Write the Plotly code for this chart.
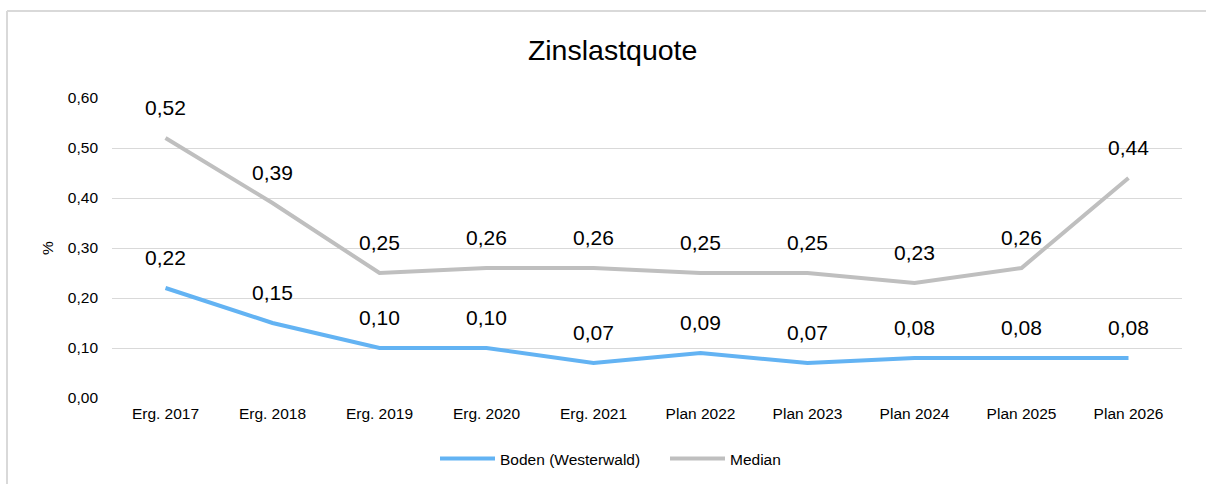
import plotly.graph_objects as go

categories = ["Erg. 2017", "Erg. 2018", "Erg. 2019", "Erg. 2020", "Erg. 2021",
              "Plan 2022", "Plan 2023", "Plan 2024", "Plan 2025", "Plan 2026"]
boden = [0.22, 0.15, 0.10, 0.10, 0.07, 0.09, 0.07, 0.08, 0.08, 0.08]
median = [0.52, 0.39, 0.25, 0.26, 0.26, 0.25, 0.25, 0.23, 0.26, 0.44]
y_ticks = [0.0, 0.1, 0.2, 0.3, 0.4, 0.5, 0.6]

FONT = "Liberation Sans, Arial, sans-serif"
BLUE = "#63B3F3"
GRAY = "#BFBFBF"
TXT = 15.5

fig = go.Figure()
fig.add_trace(go.Scatter(x=categories, y=boden, mode="lines", name="Boden (Westerwald)",
                         line=dict(color=BLUE, width=4)))
fig.add_trace(go.Scatter(x=categories, y=median, mode="lines", name="Median",
                         line=dict(color=GRAY, width=4)))

def fmt(v):
    return f"{v:.2f}".replace(".", ",")

annotations = []
for series in (boden, median):
    for c, v in zip(categories, series):
        annotations.append(dict(x=c, y=v, text=fmt(v), showarrow=False, yshift=31,
                                font=dict(family=FONT, size=21, color="#000000")))

ml, mr, mt, mb = 112, 24, 98, 86
W, H = 1206, 484
pw, ph = W - ml - mr, H - mt - mb
def px_x(x):
    return (x - ml) / pw
def px_y(y):
    return 1 - (y - mt) / ph

shapes = [
    dict(type="line", xref="paper", yref="paper", x0=px_x(7), x1=px_x(1206), y0=px_y(11), y1=px_y(11),
         line=dict(color="#D9D9D9", width=2)),
    dict(type="line", xref="paper", yref="paper", x0=px_x(7), x1=px_x(7), y0=px_y(11), y1=px_y(484),
         line=dict(color="#D9D9D9", width=2)),
]

fig.update_layout(
    width=W, height=H,
    margin=dict(l=ml, r=mr, t=mt, b=mb),
    paper_bgcolor="white", plot_bgcolor="white",
    separators=",.",
    font=dict(family=FONT, color="#000000"),
    title=dict(text="Zinslastquote", x=0.508, xanchor="center", xref="container",
               y=1 - 50 / H, yanchor="middle", font=dict(family=FONT, size=28.5, color="#000000")),
    xaxis=dict(type="category", range=[-0.5, 9.5], showgrid=False, showline=False, ticks="",
               tickfont=dict(family=FONT, size=TXT, color="#000000"), ticklabelstandoff=4),
    yaxis=dict(range=[0, 0.6], tickvals=y_ticks, tickformat=".2f", showgrid=True,
               gridcolor="#D9D9D9", gridwidth=1, zeroline=False, showline=False, ticks="",
               tickfont=dict(family=FONT, size=TXT, color="#000000"), ticklabelstandoff=13,
               title=dict(text="%", font=dict(family=FONT, size=TXT, color="#000000"), standoff=10)),
    legend=dict(orientation="h", xref="container", yref="container",
                x=(441 - 6) / W, xanchor="left", y=1 - 459 / H, yanchor="middle",
                font=dict(family=FONT, size=TXT, color="#000000"), itemwidth=55,
                entrywidth=160, entrywidthmode="pixels",
                bgcolor="rgba(0,0,0,0)"),
    annotations=annotations,
    shapes=shapes,
    showlegend=True,
)

fig.write_html("out.html", config={"displayModeBar": False},
               post_script="document.body.style.margin='0';")
